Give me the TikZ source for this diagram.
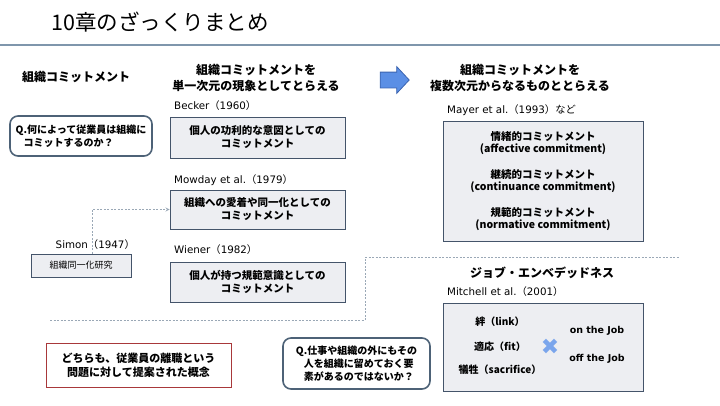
\documentclass[tikz,border=0pt]{standalone}
\usepackage{fontspec}
\setmainfont{Noto Sans CJK JP}
\newfontfamily\symfont{DejaVu Sans}
\newcommand\vd[1]{{\symfont #1}}
\usetikzlibrary{shapes.arrows}
\definecolor{boxline}{HTML}{44546A}
\definecolor{boxfill}{HTML}{EDEEF2}
\definecolor{qline}{HTML}{4D6277}
\definecolor{redline}{HTML}{A8383A}
\definecolor{crossblue}{HTML}{7AA5EC}
\definecolor{arrowfill}{HTML}{5B8FE5}
\definecolor{arrowline}{HTML}{3B64B0}
\definecolor{ruleline}{HTML}{7F96AC}
\definecolor{dashline}{HTML}{9AA8B6}
\begin{document}
\begin{tikzpicture}[x=1pt,y=-1pt,
  box/.style = {draw=boxline, fill=boxfill, line width=0.9pt, align=center, font=\bfseries\fontsize{10.5}{13}\selectfont},
  qbox/.style = {draw=qline, fill=white, line width=1.6pt, rounded corners=8pt, align=left, font=\bfseries\fontsize{10}{13}\selectfont},
  heading/.style = {align=center, font=\bfseries\fontsize{12}{16}\selectfont},
  year/.style = {anchor=west, inner sep=1pt, font=\fontsize{10.3}{12}\selectfont},
  item/.style = {font=\bfseries\fontsize{10}{12}\selectfont},
  dashline/.style = {draw=dashline, line width=0.8pt, dash pattern=on 2pt off 1.5pt}]
  \useasboundingbox (0,0) rectangle (720,405);
  \node[anchor=west, font=\fontsize{21.5}{24}\selectfont] (title) at (48,22) {10章のざっくりまとめ};
  \draw[ruleline, line width=2pt] (0,45) -- (720,45);

  \node[heading] (left) at (76,77) {組織コミットメント};
  \node[heading] (single) at (256,78) {組織コミットメントを\\単一次元の現象としてとらえる};
  \node[heading] (multi) at (520,78) {組織コミットメントを\\複数次元からなるものととらえる};
  \node[single arrow, draw=arrowline, fill=arrowfill, line width=0.8pt, inner xsep=0pt, inner ysep=7.5pt, minimum width=26pt, minimum height=29pt, single arrow head extend=5.5pt, single arrow tip angle=94] (arw) at (391,80) {};

  \node[qbox, minimum width=142pt, minimum height=40pt] (q1) at (81,136) {Q.何によって従業員は組織に\\\hspace*{0.8em}コミットするのか？};

  \node[year] (becker) at (173,106) {\vd{Becker}（\vd{1960}）};
  \node[box, minimum width=175pt, minimum height=41pt] (b1) at (257.5,137.5) {個人の功利的な意図としての\\コミットメント};
  \node[year] (mowday) at (173,180) {\vd{Mowday et al.}（\vd{1979}）};
  \node[box, minimum width=175pt, minimum height=39pt] (b2) at (257.5,209.5) {組織への愛着や同一化としての\\コミットメント};
  \node[year] (wiener) at (173,250) {\vd{Wiener}（\vd{1982}）};
  \node[box, minimum width=175pt, minimum height=40pt] (b3) at (257.5,282) {個人が持つ規範意識としての\\コミットメント};

  \node[year, anchor=east] (simon) at (136,245) {\vd{Simon}（\vd{1947}）};
  \node[box, font=\fontsize{9}{11}\selectfont, minimum width=100pt, minimum height=23pt] (ident) at (81,265.5) {組織同一化研究};
  \draw[dashline, ->, >=stealth] ([xshift=11pt]ident.north) |- (b2.west);

  \node[year] (mayer) at (446,110) {\vd{Mayer et al.}（\vd{1993}）など};
  \node[box, minimum width=200pt, minimum height=120pt, font=\bfseries\fontsize{10.5}{12}\selectfont] (dims) at (543,181) {情緒的コミットメント\\(affective commitment)\\[14pt]継続的コミットメント\\(continuance commitment)\\[14pt]規範的コミットメント\\(normative commitment)};

  \draw[dashline] (50,320) -- (365,320) -- (365,257) -- (680,257);

  \node[heading] (je) at (542,273) {ジョブ・エンベデッドネス};
  \node[year] (mitchell) at (446,292) {\vd{Mitchell et al.}（\vd{2001}）};
  \node[box, minimum width=200pt, minimum height=88pt] (jebox) at (543,347) {};
  \node[item] (link) at (500,322) {絆（link）};
  \node[item] (fit) at (500,347) {適応（fit）};
  \node[item] (sac) at (500,370) {犠牲（sacrifice）};
  \node[text=crossblue, font=\symfont\fontsize{22}{22}\selectfont] (cross) at (550,347) {✖};
  \node[item, font=\symfont\bfseries\fontsize{9.5}{12}\selectfont] (on) at (597,331) {on the Job};
  \node[item, font=\symfont\bfseries\fontsize{9.5}{12}\selectfont] (off) at (597,359) {off the Job};

  \node[draw=redline, line width=1pt, minimum width=185pt, minimum height=44pt, align=center, font=\bfseries\fontsize{11}{14}\selectfont] (both) at (138.5,365) {どちらも、従業員の離職という\\問題に対して提案された概念};
  \node[qbox, minimum width=147pt, minimum height=51pt] (q2) at (356.5,363.5) {Q.仕事や組織の外にもその\\\hspace*{0.8em}人を組織に留めておく要\\\hspace*{0.8em}素があるのではないか？};
\end{tikzpicture}
\end{document}
